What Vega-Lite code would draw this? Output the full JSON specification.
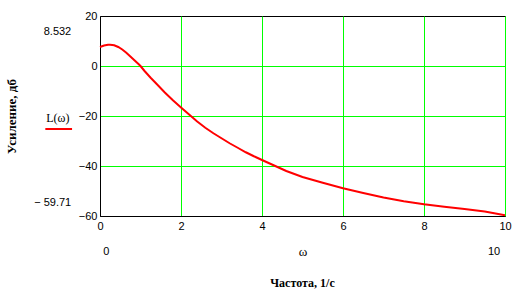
{
  "$schema": "https://vega.github.io/schema/vega-lite/v6.json",
  "width": 405,
  "height": 200,
  "autosize": "none",
  "padding": {"left": 100, "top": 16, "right": 23, "bottom": 77},
  "background": "white",
  "config": {
    "view": {"stroke": "black", "strokeWidth": 1},
    "axis": {
      "domainColor": "black",
      "domainWidth": 1,
      "ticks": false,
      "gridColor": "#00ff00",
      "gridWidth": 1,
      "gridOpacity": 1,
      "labelFont": "Liberation Sans",
      "labelFontSize": 11,
      "labelColor": "black",
      "titleColor": "black"
    }
  },
  "title": {
    "text": "Частота, 1/с",
    "orient": "bottom",
    "font": "Liberation Serif",
    "fontSize": 12,
    "fontWeight": "bold",
    "color": "black",
    "offset": 20
  },
  "layer": [
    {
      "data": {
        "values": [
          {"w": 0, "L": 7.6},
          {"w": 0.1, "L": 8.2},
          {"w": 0.2, "L": 8.5},
          {"w": 0.25, "L": 8.532},
          {"w": 0.35, "L": 8.3},
          {"w": 0.45, "L": 7.6},
          {"w": 0.55, "L": 6.6},
          {"w": 0.65, "L": 5.3},
          {"w": 0.75, "L": 3.8},
          {"w": 0.85, "L": 2.3},
          {"w": 0.95, "L": 0.8},
          {"w": 1.0, "L": 0},
          {"w": 1.1, "L": -2.0},
          {"w": 1.25, "L": -4.7},
          {"w": 1.4, "L": -7.2},
          {"w": 1.6, "L": -10.6},
          {"w": 1.8, "L": -13.7},
          {"w": 2.0, "L": -16.6},
          {"w": 2.2, "L": -19.4},
          {"w": 2.4, "L": -22.2},
          {"w": 2.6, "L": -24.7},
          {"w": 2.8, "L": -26.9},
          {"w": 3.0, "L": -28.9},
          {"w": 3.2, "L": -30.9},
          {"w": 3.4, "L": -32.7},
          {"w": 3.6, "L": -34.5},
          {"w": 3.8, "L": -36.1},
          {"w": 4.0, "L": -37.6},
          {"w": 4.3, "L": -39.8},
          {"w": 4.6, "L": -42.0},
          {"w": 5.0, "L": -44.4},
          {"w": 5.5, "L": -46.7},
          {"w": 6.0, "L": -48.9},
          {"w": 6.5, "L": -50.8},
          {"w": 7.0, "L": -52.6},
          {"w": 7.5, "L": -54.1},
          {"w": 8.0, "L": -55.3},
          {"w": 8.5, "L": -56.3},
          {"w": 9.0, "L": -57.2},
          {"w": 9.5, "L": -58.2},
          {"w": 10.0, "L": -59.71}
        ]
      },
      "mark": {"type": "line", "color": "#ff0000", "strokeWidth": 2},
      "encoding": {
        "x": {
          "field": "w",
          "type": "quantitative",
          "scale": {"domain": [0, 10], "nice": false, "zero": false},
          "axis": {
            "values": [0, 2, 4, 6, 8, 10],
            "title": "ω",
            "titleFont": "Liberation Serif",
            "titleFontSize": 13,
            "titleFontWeight": "normal",
            "titlePadding": 14,
            "labelPadding": 4,
            "labelFlush": false,
            "gridOpacity": {"condition": {"test": "datum.value === 0", "value": 0}, "value": 1}
          }
        },
        "y": {
          "field": "L",
          "type": "quantitative",
          "scale": {"domain": [-60, 20], "nice": false, "zero": false},
          "axis": {
            "values": [-60, -40, -20, 0, 20],
            "title": "Усиление, дб",
            "titleFont": "Liberation Serif",
            "titleFontSize": 13,
            "titleFontWeight": "bold",
            "titlePadding": 60,
            "labelPadding": 3,
            "gridOpacity": {"condition": {"test": "datum.value === 20 || datum.value === -60", "value": 0}, "value": 1}
          }
        }
      }
    },
    {
      "data": {"values": [{}]},
      "mark": {"type": "text", "align": "right", "baseline": "middle", "font": "Liberation Sans", "fontSize": 11, "color": "black"},
      "encoding": {
        "x": {"datum": -0.71, "type": "quantitative"},
        "y": {"datum": 13.6, "type": "quantitative"},
        "text": {"value": "8.532"}
      }
    },
    {
      "data": {"values": [{}]},
      "mark": {"type": "text", "align": "right", "baseline": "middle", "font": "Liberation Sans", "fontSize": 11, "color": "black"},
      "encoding": {
        "x": {"datum": -0.71, "type": "quantitative"},
        "y": {"datum": -54.6, "type": "quantitative"},
        "text": {"value": "− 59.71"}
      }
    },
    {
      "data": {"values": [{}]},
      "mark": {"type": "text", "align": "center", "baseline": "middle", "font": "Liberation Serif", "fontSize": 12, "color": "black"},
      "encoding": {
        "x": {"datum": -1.04, "type": "quantitative"},
        "y": {"datum": -20.6, "type": "quantitative"},
        "text": {"value": "L(ω)"}
      }
    },
    {
      "data": {"values": [{}]},
      "mark": {"type": "rule", "color": "#ff0000", "strokeWidth": 2},
      "encoding": {
        "x": {"datum": -1.35, "type": "quantitative"},
        "x2": {"datum": -0.69},
        "y": {"datum": -25.2, "type": "quantitative"}
      }
    },
    {
      "data": {"values": [{}]},
      "mark": {"type": "text", "align": "left", "baseline": "middle", "font": "Liberation Sans", "fontSize": 11, "color": "black"},
      "encoding": {
        "x": {"datum": 0.08, "type": "quantitative"},
        "y": {"datum": -74.5, "type": "quantitative"},
        "text": {"value": "0"}
      }
    },
    {
      "data": {"values": [{}]},
      "mark": {"type": "text", "align": "right", "baseline": "middle", "font": "Liberation Sans", "fontSize": 11, "color": "black"},
      "encoding": {
        "x": {"datum": 9.88, "type": "quantitative"},
        "y": {"datum": -74.5, "type": "quantitative"},
        "text": {"value": "10"}
      }
    }
  ]
}
